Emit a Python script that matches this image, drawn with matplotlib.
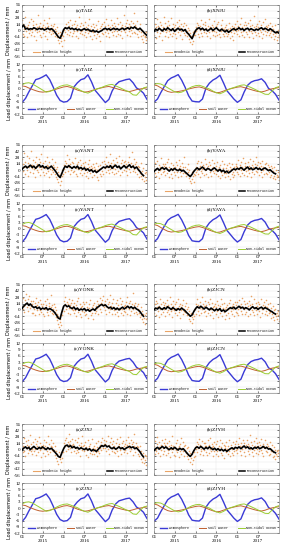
"""Geodetic height vs. reconstruction and load displacements for eight GNSS stations."""

import matplotlib

matplotlib.use("Agg")
import matplotlib.pyplot as plt
import pandas as pd
from matplotlib.lines import Line2D

plt.rcParams["font.family"] = ["Liberation Serif", "DejaVu Serif"]
plt.rcParams["axes.unicode_minus"] = False

STATION_PAIRS = [("TAIZ", "XNJU"), ("YANT", "YAYA"), ("YONK", "ZJCN"), ("ZJXJ", "ZJYH")]
TICK_DATES = ["2015-01-01", "2015-07-01", "2016-01-01", "2016-07-01", "2017-01-01", "2017-07-01"]
TICK_LABELS = ["01", "07\n2015", "01", "07\n2016", "01", "07\n2017"]
GEO_TICKS = [56, 42, 28, 14, 0, -14, -28, -42, -56]
LOAD_TICKS = [12, 9, 6, 3, 0, -3, -6, -9, -12]

# reconstruction, twice a month (1st / 15th), mm
RECON_TAIZ = [8, 12, 3, 5, 2, 4, 3, 6, 4, 2, 5, 3, 4, 1, 3, 5, 2, 4, 1, -3, -9, -14, -17, -10,
              2, 6, 4, 7, 3, 5, 2, 4, 1, 3, 0, 2, 4, 1, 3, 0, -2, 1, -3, -1, -4, -2, 0, 3,
              5, 2, 4, 1, 3, 5, 2, 4, 1, 3, 5, 2, 4, 6, 3, 7, 5, 8, 4, 2, 5, 1, -3, -7, -11]
RECON_XNJU = [-2, 3, 0, 5, 2, -1, 4, 1, 6, 3, 0, 4, -2, 2, 5, 1, 3, -1, 2, -4, -8, -13, -18, -9,
              0, 4, 6, 2, 5, 1, 3, -1, 2, 5, 0, 3, 6, 2, -1, 3, 0, -3, 1, -4, -1, 2, 4, 1,
              3, 6, 2, 4, 0, 3, 5, 1, 4, 2, 0, 3, 1, 4, 6, 2, 5, 3, 0, 4, 1, -2, -5, -3, -6]
RECON_YANT = [2, 6, 9, 5, 8, 11, 6, 9, 4, 8, 12, 7, 10, 5, 8, 3, 6, 9, 4, 0, -6, -12, -16, -8,
              3, 9, 6, 10, 7, 4, 8, 5, 9, 3, 6, 2, 5, 0, 3, -2, 1, -4, -1, -5, -2, 1, 4, 7,
              5, 9, 6, 10, 4, 8, 11, 6, 9, 3, 7, 10, 5, 8, 12, 6, 9, 4, 7, 2, -3, -8, -12]
RECON_YAYA = [-3, 1, 4, 0, 3, 6, 2, 5, 1, -2, 3, 0, 4, 1, -1, 2, -2, 0, -4, -7, -11, -14, -9, -3,
              2, 5, 1, 4, 7, 3, 0, 4, 2, -1, 3, 5, 1, -2, 2, -3, 0, -5, -2, -6, -3, 0, 3, 1,
              4, 2, 6, 3, 0, 4, 7, 2, 5, 1, 3, 6, 2, 4, 0, 3, 5, 2, -1, 1, -3, -6, -8]
RECON_YONK = [3, 8, 12, 15, 10, 13, 8, 5, 7, 3, 6, 1, 4, 2, 5, 0, 3, 1, -2, -6, -12, -18, -20, -6,
              8, 11, 7, 9, 5, 3, 6, 1, 4, -1, 2, 0, 3, -2, 1, -3, 0, 2, -1, 4, 7, 10, 12, 9,
              11, 7, 4, 6, 2, 5, 1, 4, 0, 3, 6, 2, 5, 8, 4, 7, 3, 6, 2, 0, -4, -9, -14]
RECON_ZJCN = [0, 4, 2, 6, 3, 1, 5, 2, 7, 4, 1, 5, 2, -1, 3, 0, 4, 1, -2, -6, -10, -14, -11, -4,
              3, 7, 4, 8, 5, 2, 6, 3, 0, 4, 1, -2, 2, -1, 3, -3, 0, -4, -1, 2, 5, 3, 6, 2,
              5, 8, 4, 6, 2, 5, 3, 0, 4, 7, 3, 5, 1, 4, 6, 2, 5, 3, 1, -2, -4, -7, -9]
RECON_ZJXJ = [-1, 3, 6, 2, 5, 0, 4, 7, 3, 1, 5, 2, 6, 3, 0, 4, 1, 3, -1, -5, -10, -15, -17, -8,
              2, 8, 10, 6, 9, 4, 7, 3, 5, 1, 4, 2, 0, 3, -1, 2, -3, 0, -2, -4, 1, 5, 9, 7,
              10, 6, 8, 4, 2, 5, 1, 3, 6, 2, 4, 0, 3, 5, 7, 4, 6, 2, 4, 0, -5, -11, -16]
RECON_ZJYH = [-2, 2, 5, 1, 4, 7, 3, 6, 2, 0, 4, 1, 5, 2, -1, 3, 0, 2, -3, -7, -12, -15, -10, -3,
              4, 6, 3, 7, 4, 1, 5, 2, 6, 3, 0, 3, -1, 2, -2, 1, -3, 0, -4, -1, 2, 4, 1, 5,
              3, 6, 2, 5, 8, 4, 6, 2, 4, 1, 5, 3, 6, 2, 4, 7, 3, 5, 1, 2, -2, -5, -7]

# geodetic height, every 5 days, mm (18 values = one quarter per row)
GEO_TAIZ = [22, -8, 15, 3, -12, 9, 30, -2, 7, -15, 12, 5, -6, 18, 1, -10, 26, 4,
            -4, 11, 20, -13, 6, 2, -20, 14, 8, -3, 35, 0, 9, -9, 16, 4, -14, 7,
            13, -6, 3, 24, -11, 8, -1, 17, -18, 5, 10, -4, 28, 2, -8, 12, -2, 6,
            9, -5, 15, -12, 3, -8, 0, -14, 7, -20, -6, -28, -10, -3, -24, -16, -35, -9,
            -12, 2, -20, 8, -3, 14, 5, -7, 19, 1, -9, 10, 24, -4, 6, -13, 11, 3,
            -6, 15, 0, 21, -11, 7, -2, 12, -17, 4, 30, -5, 9, -1, 16, -8, 2, 13,
            -10, 5, 18, -3, 8, -15, 1, 11, -6, 26, -2, 4, -12, 9, 0, -19, 14, -4,
            7, -9, -1, 12, -16, 3, -7, 20, -4, -12, 6, -22, 1, 10, -5, 15, -8, 4,
            18, -3, 9, -11, 25, 2, -6, 13, 5, -15, 8, 1, 22, -4, 11, -9, 3, 16,
            -2, 10, -13, 6, 28, 0, 14, -7, 4, 19, -10, 8, -1, 12, -16, 5, 33, 2,
            9, -4, 17, 3, -9, 24, 7, -2, 14, -12, 10, 20, 1, -6, 16, 5, 38, -3,
            12, -5, 8, 21, -8, 3, -14, 6, -2, 15, -11, -4, -19, 2, -9, -25, -6, -15,
            -12, -20, -4, -16]
GEO_XNJU = [-9, 14, 3, -17, 8, 25, -3, 10, -12, 5, 19, -6, 1, 13, -20, 7, -2, 30,
            6, -11, 16, -4, 9, 2, -15, 21, 0, 11, -8, 4, 27, -13, 3, 15, -5, 8,
            -7, 12, 1, -16, 18, 5, -3, 9, 24, -10, 6, -1, 14, -19, 2, 10, -6, 17,
            3, -9, 11, -2, -13, 6, -7, 2, -18, -5, -25, -11, -30, -14, -3, -22, -9, -1,
            -10, 7, -2, 16, 4, -8, 12, -14, 9, 1, 22, -5, 6, -11, 15, 2, -3, 11,
            18, -6, 5, -13, 10, 1, 26, -4, 8, -16, 3, 13, -1, 7, -9, 20, 0, -12,
            9, -3, 14, -10, 4, 19, -7, 2, -15, 11, -1, 6, 23, -8, 3, -12, 8, 1,
            -5, 12, -13, 3, -8, 17, -2, -17, 6, -4, 10, -11, 1, -20, 8, -6, 14, -1,
            5, 20, -7, 10, 1, -12, 15, 3, -4, 27, -9, 8, -1, 13, -15, 6, 18, -3,
            11, -8, 4, 16, -2, -14, 9, 24, 0, -6, 13, 2, -17, 7, 31, -3, 10, -10,
            3, 15, -5, 8, -12, 21, 1, -3, 12, -16, 6, 18, -7, 4, 26, -1, 9, -9,
            7, -4, 13, -10, 2, 17, -6, 0, -14, 9, -8, 4, -18, -2, 11, -12, -5, -21,
            -3, -15, 2, -9]
GEO_YANT = [25, -2, 14, 38, 6, -9, 19, 10, 31, 1, -12, 16, 8, 27, -4, 12, 42, 5,
            11, -7, 22, 3, 17, -14, 9, 30, 0, 13, -5, 24, 7, -10, 18, 2, 35, 6,
            -3, 15, 8, -11, 21, 4, -6, 12, 28, -1, 9, -15, 17, 3, 10, -8, 24, 1,
            12, -4, 6, 19, -9, 2, -14, 8, -20, -3, -27, -10, -33, -16, -6, -24, -12, 0,
            -8, 12, 3, 20, -5, 15, 9, 33, -2, 11, 6, 24, -9, 14, 1, 18, 8, -4,
            16, -1, 9, 27, -8, 5, 13, -13, 19, 2, 7, -6, 22, 0, 11, -10, 4, 15,
            -6, 9, 1, 18, -12, 4, -3, 14, -18, 6, 23, -7, 2, 10, -14, 5, -1, 13,
            8, -11, 3, -4, 16, -16, 0, 9, -21, 2, -8, 12, -13, 5, -2, 19, -9, 7,
            20, 4, 13, -5, 29, 8, 1, 17, -7, 11, 36, 3, 15, -3, 9, 22, 5, -9,
            14, 2, 26, -6, 10, 19, -1, 8, 32, 4, -10, 16, 7, 23, -4, 12, 1, 18,
            9, 21, -2, 13, 5, -11, 17, 28, 3, 10, -5, 15, 6, 40, -1, 11, 24, 2,
            13, -3, 19, 6, -8, 10, 1, -14, 8, -6, 15, -12, -2, -19, 4, -10, -24, -7,
            -16, -4, -22, -9]
GEO_YAYA = [10, -7, 16, 2, -13, 21, 5, -3, 12, -18, 7, 0, 26, -9, 4, 14, -5, 9,
            -2, 13, -11, 6, 19, -6, 1, 24, -14, 8, 3, -8, 15, 0, -17, 11, 5, -4,
            7, -10, 18, 1, -5, 12, -15, 4, 22, -3, 9, -12, 2, 16, -7, 6, -1, 28,
            -6, 8, -13, 2, -9, 14, -4, -17, 0, -23, -10, -29, -5, -19, -12, -2, -26, -8,
            -11, 6, -3, 15, 1, -8, 20, 4, -14, 10, -1, 17, 3, -6, 12, -10, 7, 25,
            0, -9, 14, 5, -15, 9, 2, 19, -5, 11, -12, 4, 23, -2, 8, -7, 15, 1,
            -8, 10, -2, 17, -13, 3, 7, -18, 12, -4, 1, 21, -10, 5, -6, 14, -1, -15,
            4, -7, 11, -12, 0, 16, -5, 6, -19, 2, -9, 13, -3, -16, 8, -11, 1, 10,
            14, -4, 7, 22, -9, 3, 11, -13, 18, 0, 6, -6, 27, 2, -10, 9, 15, -2,
            5, -12, 17, 1, 9, -7, 24, 3, -15, 12, -3, 8, 20, -9, 4, 14, -1, 30,
            -5, 11, 2, 18, -10, 6, 15, -3, 9, -14, 21, 1, 7, -8, 13, 4, -6, 16,
            3, -9, 12, -4, 7, -15, 0, 10, -11, 5, -18, -2, 8, -13, -6, -20, 1, -10,
            -16, -3, -12, -22]
GEO_YONK = [18, 2, 27, 9, -5, 21, 13, 36, 6, 16, -2, 24, 11, 31, 4, 19, 8, -7,
            12, -6, 20, 3, 15, -11, 8, 26, -1, 10, 17, -8, 5, 22, 0, 13, -4, 9,
            -9, 14, 4, -14, 19, 1, 10, -5, 25, 3, -12, 8, 16, -3, 6, 33, -7, 11,
            2, -10, 13, -4, 7, -16, -1, -22, -9, -30, -14, -38, -19, -26, -8, -33, -12, -2,
            6, 20, -3, 14, 28, 9, 1, 17, -6, 12, 24, 4, 10, -9, 16, 2, 21, -1,
            8, -7, 15, 0, 11, -13, 19, 4, -4, 26, 2, -10, 13, 6, -16, 9, -2, 17,
            -5, 12, -11, 3, 18, -8, 7, 0, -17, 14, 4, -3, 22, -12, 6, -6, 10, -20,
            1, 15, -7, 9, -2, 20, 5, -10, 13, 8, 27, 3, 16, -4, 21, 11, 30, 6,
            14, -1, 19, 8, -8, 23, 4, 12, -5, 17, 2, 33, 9, -10, 15, 6, 24, 0,
            7, -9, 16, 2, 21, -4, 10, -14, 5, 26, 1, -7, 13, 3, 19, -11, 8, -2,
            11, -5, 18, 4, 28, -8, 9, 15, 1, -12, 20, 6, -3, 13, 37, 2, 10, -6,
            5, 16, -4, 9, -10, 2, 14, -7, 0, -15, 6, -11, -20, -3, -26, -9, -17, -31,
            -12, -21, -6, -18]
GEO_ZJCN = [-6, 12, 4, 20, -11, 7, 15, -2, 9, -15, 25, 1, 13, -8, 5, 18, -4, 10,
            3, -13, 16, 8, -5, 22, 0, 11, -9, 6, 29, -3, 14, 2, -16, 9, 19, -1,
            12, -7, 5, 17, -12, 2, 24, -4, 8, 14, -17, 6, 0, 11, -9, 21, 3, -2,
            9, -5, 15, -11, 2, -8, 7, -19, -3, -24, -12, -6, -28, -15, -9, -20, -1, -13,
            2, -9, 14, 6, 23, -3, 11, -12, 17, 4, 9, -6, 28, 1, 13, -4, 8, 19,
            -2, 10, -14, 5, 18, -7, 1, 12, -11, 24, 3, -5, 15, 7, -18, 9, 0, 14,
            -10, 6, 19, -3, 11, -16, 2, 8, -7, 25, -1, 13, -13, 4, 16, -5, 1, -20,
            7, -12, 10, 2, -6, 15, -17, 4, 21, -2, 9, -9, 13, 1, -14, 6, 18, -4,
            11, -7, 17, 3, -12, 22, 5, 9, -3, 14, 27, -8, 6, 1, 19, -10, 12, 4,
            -5, 15, 8, -13, 20, 2, 10, -8, 31, 0, 13, -4, 7, 23, -11, 5, 16, -1,
            9, -9, 18, 4, -2, 13, -15, 7, 25, 1, -6, 11, 3, 17, -10, 8, 21, -3,
            6, -12, 12, 0, -7, 16, -4, -18, 4, -10, 9, -15, -1, -22, 2, -9, -14, -6,
            -19, -3, -11, -25]
GEO_ZJXJ = [14, -6, 9, 26, -2, 5, -13, 18, 3, 11, -8, 22, 0, 7, 33, -4, 12, 2,
            -9, 16, 6, -3, 24, 1, 13, -12, 9, 19, -5, 4, 28, -1, 15, -16, 8, 3,
            11, -7, 20, 2, -14, 8, 17, -3, 5, 30, -10, 1, 13, -6, 9, 22, -1, 6,
            -4, 15, 0, -11, 7, -18, -2, -9, -25, -13, -32, -6, -21, -16, -28, -10, -3, -19,
            -6, 14, 5, 21, 10, -3, 26, 8, 16, 1, 12, 35, 4, 19, -5, 11, 23, 6,
            13, -2, 9, 20, -8, 4, 16, 0, 25, -6, 10, 3, -13, 14, 7, 29, -1, 8,
            -4, 11, 2, 16, -11, 6, -1, 20, -16, 4, 9, -7, 13, 0, 24, -9, 3, -3,
            8, -10, 1, 14, -5, -15, 6, -2, 19, -8, 4, 11, -1, 17, 9, 26, 3, 13,
            21, 4, 12, -4, 18, 8, 30, 1, 10, -9, 16, 6, 25, -2, 13, 3, 19, -6,
            9, -7, 15, 2, 23, -3, 7, -14, 12, 0, 27, 5, -9, 14, 3, 18, -5, 8,
            13, -1, 20, 6, 10, -8, 28, 3, 15, -4, 9, 22, 1, 12, -11, 17, 7, 34,
            4, -6, 14, 1, 9, -9, 5, -15, -2, 7, -20, -4, -12, -27, -8, -18, -30, -11,
            -23, -14, -33, -19]
GEO_ZJYH = [8, -10, 19, 2, -4, 13, 27, -7, 6, 16, -14, 4, 11, -1, 22, 3, -9, 15,
            -3, 10, 24, -12, 5, 14, 0, -8, 18, 7, -16, 11, 2, 29, -5, 9, 1, -11,
            6, -13, 15, 0, -6, 21, 3, -17, 9, -2, 12, 26, -9, 4, -4, 16, -14, 7,
            -1, 10, -8, 3, -15, 5, -21, -4, -12, -27, -7, -18, -32, -10, -23, -3, -16, -6,
            -13, 8, 1, 17, -6, 12, 4, 24, -9, 10, 2, -3, 19, 6, -11, 14, 0, 9,
            15, -5, 7, -12, 20, 3, 11, -8, 1, 26, -2, 13, 5, -15, 9, 17, -4, 2,
            -9, 12, -3, 18, 4, -14, 8, 0, 22, -7, 5, -11, 14, -1, 10, -19, 3, 7,
            -6, 16, 1, -10, 9, -2, 21, -15, 4, 11, -7, 2, 17, -12, 6, -4, 13, -1,
            18, 2, -8, 12, 5, 25, -4, 9, 15, -11, 7, 1, 20, -6, 14, 3, -14, 10,
            6, 22, -3, 13, -9, 8, 31, 1, 16, -5, 11, -13, 4, 19, 0, 9, -7, 26,
            2, 14, -10, 7, 17, -4, 11, 0, 23, -8, 5, 13, -15, 9, 3, 20, -2, 6,
            12, -5, 8, -12, 3, 16, -9, 1, -3, 10, -17, -6, 5, -13, -21, -1, -10, -4,
            -15, 0, -8, -19]

# monthly load displacements (1st of month, Jan 2015 - Jan 2018), mm
ATM_WEST = [-6.5, -4.5, -1.5, 1.5, 4.5, 5.0, 5.8, 6.8, 4.5, 1.0, -3.0, -5.5, -6.3, -6.0, -4.5,
            1.0, 3.0, 4.5, 5.0, 6.8, 3.5, -0.5, -2.5, -4.5, -6.5, -5.0, -1.0, 2.0, 3.5, 4.0,
            4.5, 4.8, 3.0, 0.5, -0.5, -2.0, -5.0]
ATM_EAST = [-6.3, -4.8, -1.8, 1.2, 4.0, 5.3, 6.0, 6.9, 4.2, 0.8, -3.3, -5.8, -6.1, -6.2, -4.8,
            0.5, 2.8, 4.3, 5.2, 6.6, 3.0, -0.8, -2.8, -4.8, -6.4, -5.2, -1.5, 1.8, 3.3, 4.0,
            4.3, 4.9, 3.2, 0.3, -0.8, -2.5, -5.3]
SOIL_WEST = [1.5, 1.2, 0.5, -0.2, -0.8, -1.3, -1.5, -1.3, -1.0, -0.5, 0.0, 0.5, 1.0, 1.2, 0.8,
             0.2, -0.5, -1.0, -1.5, -1.3, -0.8, -0.3, 0.2, 0.6, 1.0, 1.2, 0.8, 0.3, -0.2, -0.6,
             -1.0, -1.2, -0.8, -0.3, 0.0, 0.3, 0.6]
SOIL_EAST = [2.0, 1.5, 0.6, -0.4, -1.2, -1.6, -1.4, -1.2, -0.9, -0.5, 0.0, 0.4, 0.8, 1.0, 0.6,
             0.0, -0.7, -1.3, -1.8, -1.6, -1.0, -0.4, 0.1, 0.5, 0.9, 1.1, 0.7, 0.2, -0.3, -0.8,
             -1.2, -1.4, -1.0, -0.4, 0.1, 0.4, 0.7]
OCEAN_WEST = [2.0, 2.8, 3.0, 2.5, 1.5, 0.5, -0.5, -1.5, -1.2, -0.5, 0.5, 1.3, 1.8, 2.0, 1.5,
              0.8, 0.2, -0.8, -1.5, -2.0, -1.2, -0.3, 0.3, 0.8, 1.5, 2.0, 2.2, 1.5, 0.8, 0.0,
              -0.8, -1.5, -2.8, -3.0, -1.2, 0.5, 1.0]
OCEAN_EAST = [2.2, 2.6, 2.4, 1.6, 0.6, -0.4, -1.3, -1.8, -1.5, -0.7, 0.3, 1.1, 1.6, 1.8, 1.3,
              0.6, 0.0, -1.0, -1.8, -2.3, -1.6, -0.6, 0.2, 0.7, 1.3, 1.8, 2.0, 1.4, 0.7, -0.1,
              -0.9, -1.7, -2.5, -2.6, -1.0, 0.6, 1.2]

RECON = {"TAIZ": RECON_TAIZ, "XNJU": RECON_XNJU, "YANT": RECON_YANT, "YAYA": RECON_YAYA,
         "YONK": RECON_YONK, "ZJCN": RECON_ZJCN, "ZJXJ": RECON_ZJXJ, "ZJYH": RECON_ZJYH}
GEO = {"TAIZ": GEO_TAIZ, "XNJU": GEO_XNJU, "YANT": GEO_YANT, "YAYA": GEO_YAYA,
       "YONK": GEO_YONK, "ZJCN": GEO_ZJCN, "ZJXJ": GEO_ZJXJ, "ZJYH": GEO_ZJYH}

C_GEO = "#eaa466"
C_ATM = "#3a3ad6"
C_SOIL = "#c0602e"
C_OCEAN = "#9acd32"
LEGEND_FONT = {"family": "Liberation Mono", "size": 2.3}

W, H = 286, 550
COLS = [(22, 147), (154, 279)]
GROUP_TOP = [5.0, 144.7, 284.4, 424.1]
START, END = pd.Timestamp("2015-01-01"), pd.Timestamp("2018-01-01")


def add_px_axes(fig, x0, x1, y0, y1):
    return fig.add_axes([x0 / W, 1 - y1 / H, (x1 - x0) / W, (y1 - y0) / H])


def style(ax, show_y, show_x):
    ax.set_xlim(START, END)
    ax.set_xticks(pd.to_datetime(TICK_DATES))
    if show_x:
        ax.set_xticklabels(TICK_LABELS, fontsize=3.6, linespacing=1.1)
    else:
        ax.set_xticklabels([])
    if not show_y:
        ax.set_yticklabels([])
    ax.tick_params(direction="in", length=1.5, width=0.4, pad=1.2, labelsize=3.6,
                   top=True, right=True)
    ax.grid(color="#e4e4e4", lw=0.3)
    ax.set_axisbelow(True)
    for spine in ax.spines.values():
        spine.set_color("#8c8c8c")
        spine.set_linewidth(0.5)


def draw_geo(ax, name, letter, show_y):
    geo = GEO[name]
    recon = RECON[name]
    geo_x = pd.date_range(START, periods=len(geo), freq="5D")
    recon_x = pd.date_range(START, periods=len(recon), freq="SMS")
    ax.scatter(geo_x, geo, s=1.3, color=C_GEO, linewidths=0, zorder=2)
    ax.plot(recon_x, recon, color="black", lw=1.2, zorder=3)
    ax.set_ylim(-56, 56)
    ax.set_yticks(GEO_TICKS)
    style(ax, show_y, False)
    ax.text(0.5, 0.9, f"({letter}){name}", transform=ax.transAxes, ha="center", va="center",
            fontsize=3.8)
    handles = [Line2D([], [], color=C_GEO, lw=0.8), Line2D([], [], color="black", lw=1.1)]
    ax.legend(handles, ["Geodetic height", "Reconstruction"], loc="lower left", ncol=2,
              mode="expand", bbox_to_anchor=(0.08, 0.02, 0.9, 0.1), frameon=False,
              handlelength=2.0, handletextpad=0.6, borderaxespad=0.0, prop=LEGEND_FONT)
    if show_y:
        ax.set_ylabel("Displacement / mm", fontsize=3.6, labelpad=1.5, family="DejaVu Sans")


def draw_load(ax, name, letter, show_y, east):
    months = pd.date_range(START, periods=len(ATM_WEST), freq="MS")
    ax.plot(months, ATM_EAST if east else ATM_WEST, color=C_ATM, lw=1.0, label="Atmosphere")
    ax.plot(months, SOIL_EAST if east else SOIL_WEST, color=C_SOIL, lw=0.7, label="Soil Water")
    ax.plot(months, OCEAN_EAST if east else OCEAN_WEST, color=C_OCEAN, lw=0.7,
            label="Non-tidal ocean")
    ax.set_ylim(-12, 12)
    ax.set_yticks(LOAD_TICKS)
    style(ax, show_y, True)
    ax.text(0.5, 0.9, f"({letter}){name}", transform=ax.transAxes, ha="center", va="center",
            fontsize=3.8)
    ax.legend(loc="lower left", ncol=3, mode="expand", bbox_to_anchor=(0.04, 0.03, 0.95, 0.1),
              frameon=False, handlelength=2.0, handletextpad=0.6, borderaxespad=0.0,
              prop=LEGEND_FONT)
    if show_y:
        ax.set_ylabel("Load displacement / mm", fontsize=3.6, labelpad=1.5,
                      family="DejaVu Sans")


def main():
    fig = plt.figure(figsize=(W / 100, H / 100), dpi=100)
    for top, pair in zip(GROUP_TOP, STATION_PAIRS):
        for col, name in enumerate(pair):
            x0, x1 = COLS[col]
            ax_geo = add_px_axes(fig, x0, x1, top, top + 51)
            draw_geo(ax_geo, name, "ab"[col], col == 0)
            ax_load = add_px_axes(fig, x0, x1, top + 59, top + 109)
            draw_load(ax_load, name, "cd"[col], col == 0, col == 1)
    fig.savefig("out.png", dpi=100)
    plt.close(fig)


if __name__ == "__main__":
    main()
